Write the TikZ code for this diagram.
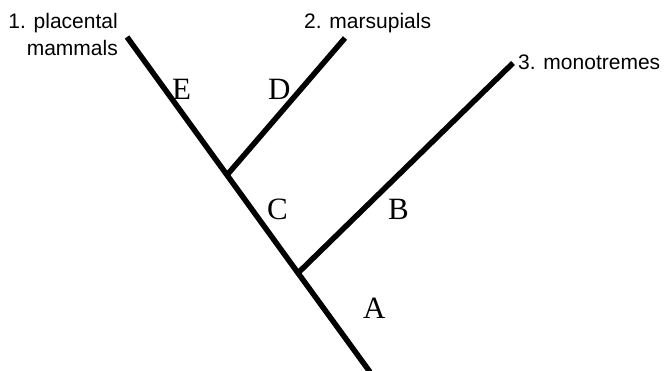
\documentclass[tikz,border=0pt]{standalone}
\usepackage{fontspec}
\setmainfont{Liberation Serif}
\setsansfont{Liberation Sans}
\usetikzlibrary{positioning}

\begin{document}
\begin{tikzpicture}[
  x=1pt,y=-1pt,
  branch/.style={line width=5.5pt},
  taxon/.style={font=\sffamily\fontsize{21}{27}\selectfont,inner sep=0pt},
  edgelabel/.style={font=\fontsize{31}{31}\selectfont,inner sep=0pt,anchor=base west}
]
\useasboundingbox (0,0) rectangle (666,371);
% tips and branch points
\coordinate (placental) at (127,37);
\coordinate (marsupial) at (345,38);
\coordinate (monotreme) at (513,63);
\coordinate (split1) at (227,175);
\coordinate (split2) at (298,273);
\coordinate (root) at (370,372);

\draw[branch] (placental) -- (split1) -- (split2) -- (root);
\draw[branch] (split1) -- (marsupial);
\draw[branch] (split2) -- (monotreme);

% taxa
\node[taxon,align=right,anchor=north east] (t1) at (118,13) {1. placental\\mammals};
\node[taxon,anchor=base west] (t2) at (304,29) {2. marsupials};
\node[taxon,anchor=base west] (t3) at (518,70) {3. monotremes};

% branch letters
\node[edgelabel] (lE) at (172,100) {E};
\node[edgelabel] (lD) at (268,100) {D};
\node[edgelabel] (lC) at (267,220) {C};
\node[edgelabel] (lB) at (388,220) {B};
\node[edgelabel] (lA) at (363,318) {A};
\end{tikzpicture}
\end{document}
